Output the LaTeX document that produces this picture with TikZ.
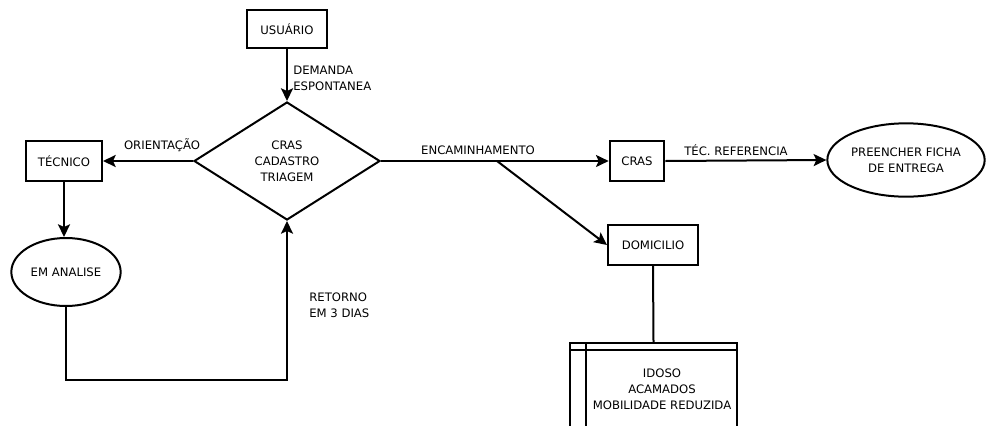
\documentclass[tikz,border=0pt]{standalone}
\usepackage{fontspec}
\setmainfont{DejaVu Sans}
\usetikzlibrary{shapes.geometric,arrows.meta}
\begin{document}
\begin{tikzpicture}[x=0.75pt,y=-0.75pt,
  font=\fontsize{8.75}{12}\selectfont,
  lw/.style={line width=1.5pt},
  box/.style={draw, lw, rectangle, inner sep=0pt, align=center},
  oval/.style={draw, lw, ellipse, inner sep=0pt, align=center},
  arr/.style={lw, -{Stealth[length=9.5pt,width=9pt,inset=2pt]}},
  lbl/.style={inner sep=0pt, align=left, anchor=west},
  clbl/.style={inner sep=0pt, align=center}]
\useasboundingbox (0,0) rectangle (987,425);
\clip (0,0) rectangle (987,425);

\node[box, minimum width=60pt, minimum height=28.5pt] (usr) at (287,29) {USUÁRIO};
\node[diamond, draw, lw, inner sep=0pt, minimum width=139.5pt, minimum height=88.5pt, align=center] (cras) at (287,161) {CRAS\\CADASTRO\\TRIAGEM};
\node[box, minimum width=57pt, minimum height=30pt] (tec) at (64,161) {TÉCNICO};
\node[oval, minimum width=82pt, minimum height=51pt] (ana) at (66,272) {EM ANALISE};
\node[box, minimum width=41pt, minimum height=30pt] (cras2) at (637,161) {CRAS};
\node[oval, minimum width=118pt, minimum height=55pt] (ficha) at (906,160) {PREENCHER FICHA\\DE ENTREGA};
\node[box, minimum width=67.5pt, minimum height=30pt] (dom) at (653,245) {DOMICILIO};
\node[box, minimum width=125pt, minimum height=90pt, anchor=north] (tbl) at (653.5,342) {};
\draw[lw] ([yshift=-6pt]tbl.north west) -- ([yshift=-6pt]tbl.north east);
\draw[lw] ([xshift=12.75pt]tbl.north west) -- ([xshift=12.75pt]tbl.south west);
\node[clbl] (tbltxt) at (662,389) {IDOSO\\ACAMADOS\\MOBILIDADE REDUZIDA};

\draw[arr] (usr) -- (cras.north);
\node[lbl] (dem) at (293,78) {DEMANDA\\ESPONTANEA};
\draw[arr] (cras.west) -- (tec.east);
\node[clbl] (ori) at (162,145) {ORIENTAÇÃO};
\draw[arr] (tec.south) -- (tec.south |- ana.north);
\coordinate (rc) at (287,380);
\draw[arr] (ana.south) |- (rc) -- (cras.south);
\node[lbl] (ret) at (309,305) {RETORNO\\EM 3 DIAS};
\draw[arr] (cras.east) -- (cras2.west);
\node[clbl] (enc) at (478,150) {ENCAMINHAMENTO};
\coordinate (br) at (497,161);
\draw[arr] (br) -- (dom.west);
\draw[arr] (cras2.east) -- (ficha.west);
\node[clbl] (tref) at (736,150) {TÉC. REFERENCIA};
\draw[lw] (dom.south) -- (tbl.north);
\end{tikzpicture}
\end{document}
